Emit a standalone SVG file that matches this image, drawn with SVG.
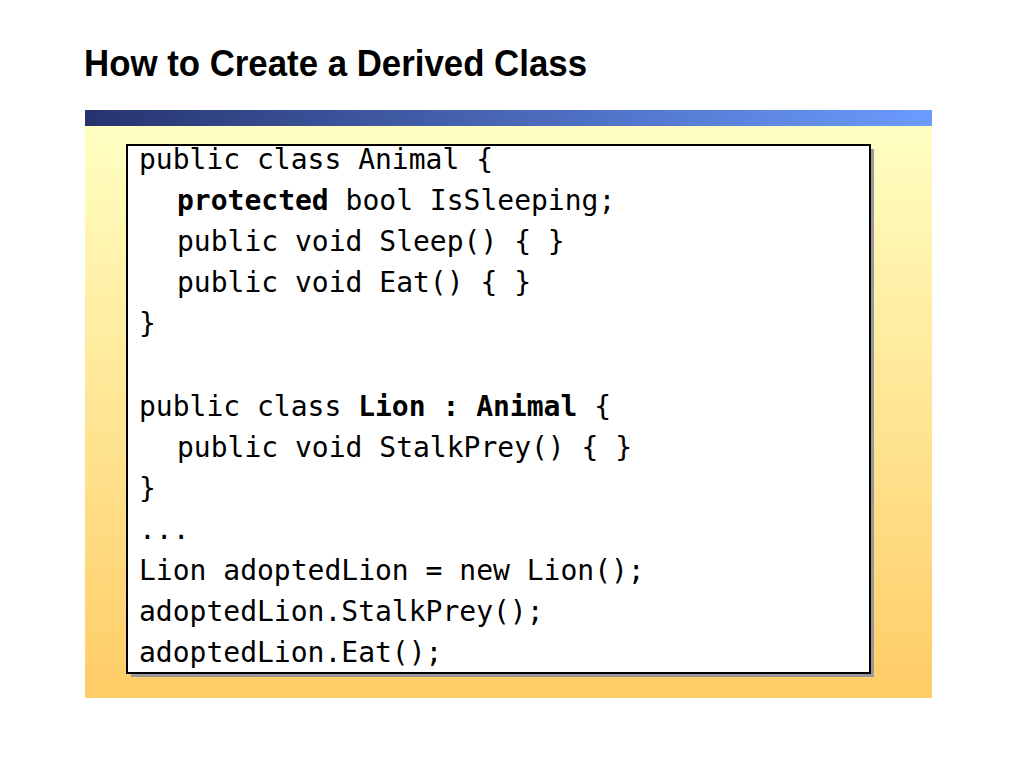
<svg xmlns="http://www.w3.org/2000/svg" width="1024" height="768" viewBox="0 0 1024 768">
<defs>
<linearGradient id="bar" x1="0" y1="0" x2="1" y2="0"><stop offset="0" stop-color="#26336e"/><stop offset="1" stop-color="#6b9cff"/></linearGradient>
<linearGradient id="bg" x1="0" y1="0" x2="0" y2="1"><stop offset="0" stop-color="#ffffc2"/><stop offset="1" stop-color="#ffcc66"/></linearGradient>
<style>.c{font-family:"DejaVu Sans Mono",monospace;font-size:28px;fill:#000}.b{font-weight:bold}</style>
</defs>
<rect width="1024" height="768" fill="#fff"/>
<text x="84" y="76" font-family="Liberation Sans, Arial, sans-serif" font-weight="bold" font-size="36" textLength="503" lengthAdjust="spacingAndGlyphs">How to Create a Derived Class</text>
<rect x="85" y="110" width="847" height="16" fill="url(#bar)"/>
<rect x="85" y="126" width="847" height="572" fill="url(#bg)"/>
<g id="codebox">
<rect x="131" y="149" width="743" height="528" fill="#999"/>
<rect x="127" y="145" width="743" height="528" fill="#fff" stroke="#000" stroke-width="2"/>
<text class="c" x="139" y="169">public class Animal {</text>
<text class="c" x="177" y="210"><tspan class="b">protected</tspan> bool IsSleeping;</text>
<text class="c" x="177" y="251">public void Sleep() { }</text>
<text class="c" x="177" y="292">public void Eat() { }</text>
<text class="c" x="139" y="333">}</text>
<text class="c" x="139" y="416">public class <tspan class="b">Lion : Animal</tspan> {</text>
<text class="c" x="177" y="457">public void StalkPrey() { }</text>
<text class="c" x="139" y="498">}</text>
<text class="c" x="139" y="539">...</text>
<text class="c" x="139" y="580">Lion adoptedLion = new Lion();</text>
<text class="c" x="139" y="621">adoptedLion.StalkPrey();</text>
<text class="c" x="139" y="662">adoptedLion.Eat();</text>
</g>
</svg>
